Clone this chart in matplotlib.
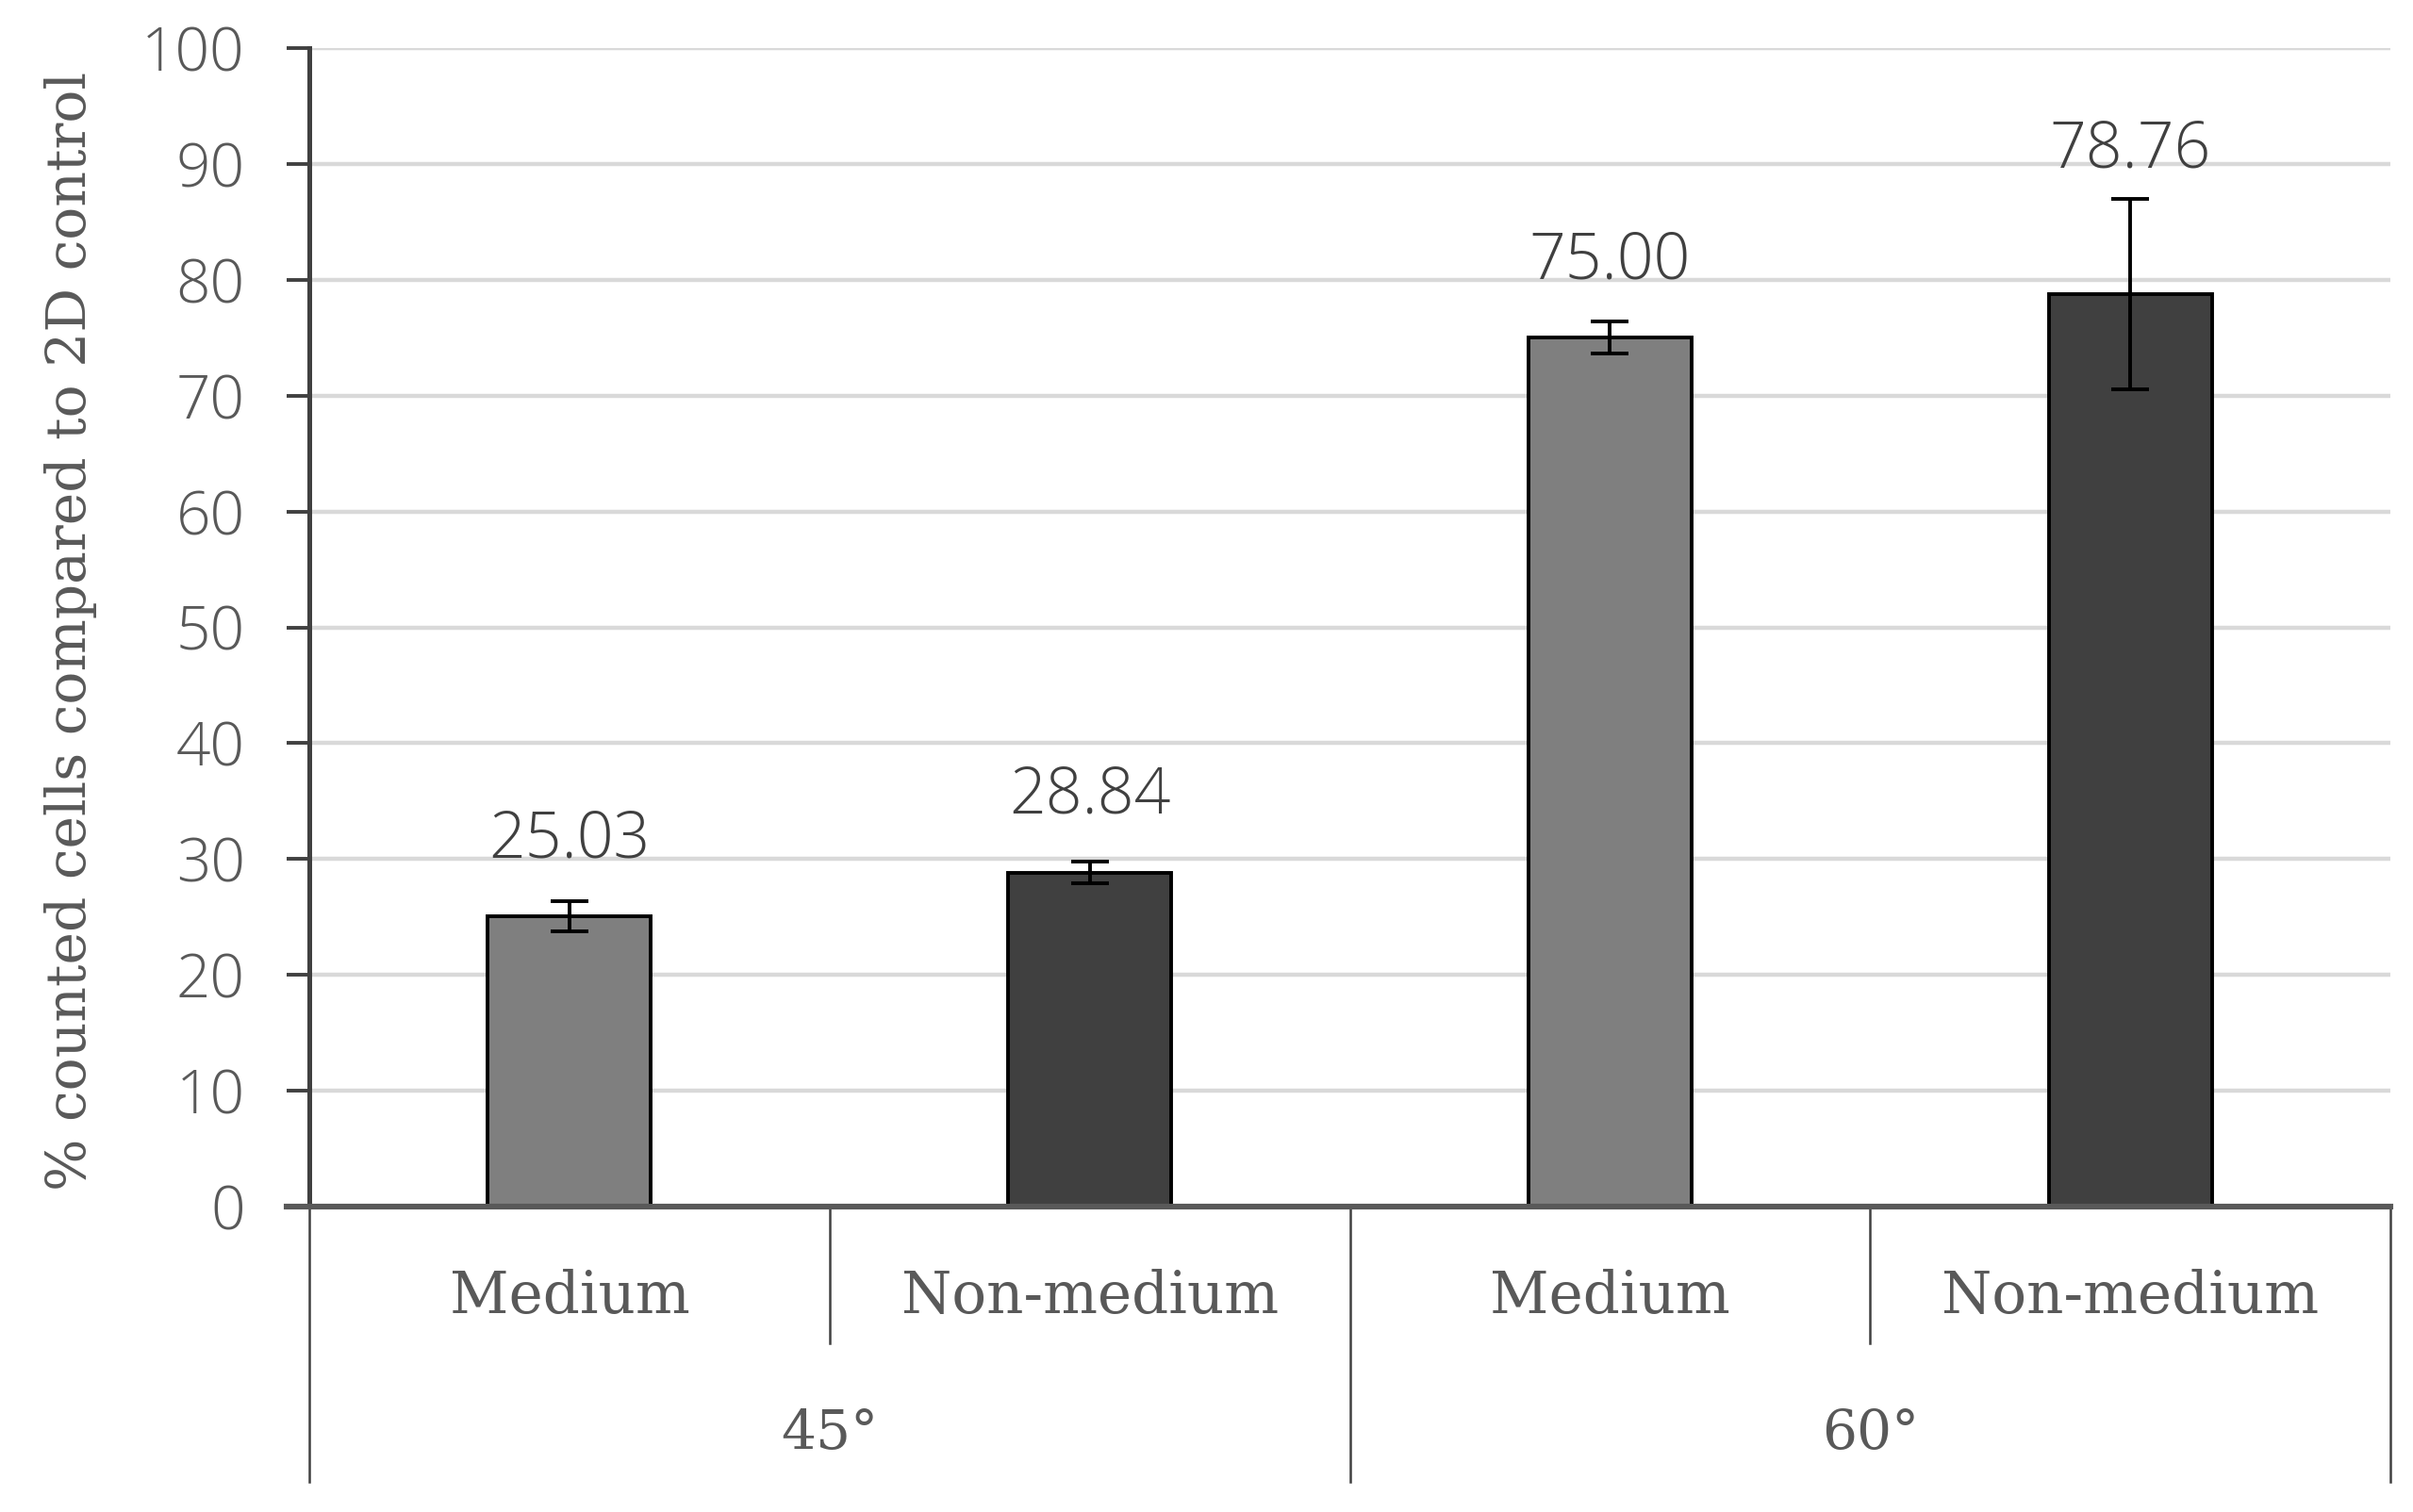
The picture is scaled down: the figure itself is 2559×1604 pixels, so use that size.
import matplotlib
matplotlib.use("Agg")
import matplotlib.pyplot as plt
import numpy as np

categories = ["Medium", "Non-medium", "Medium", "Non-medium"]
groups = ["45°", "60°"]
values = [25.03, 28.84, 75.00, 78.76]
errors = [1.3, 0.95, 1.4, 8.2]
bar_colors = ["#7f7f7f", "#404040", "#7f7f7f", "#404040"]
ylabel = "% counted cells compared to 2D control"
yticks = list(range(0, 101, 10))

W, H, DPI = 2559, 1604, 200
fig = plt.figure(figsize=(W / DPI, H / DPI), dpi=DPI)
fig.patch.set_facecolor("white")

x0, x1 = 328, 2535
ytop, ybot = 51, 1280
ax = fig.add_axes([x0 / W, 1 - ybot / H, (x1 - x0) / W, (ybot - ytop) / H])

num_font = dict(family=["Open Sans", "DejaVu Sans"], weight="light")
serif_font = dict(family=["DejaVu Serif"])

x = np.arange(len(values))
ax.bar(x, values, width=0.314, color=bar_colors, edgecolor="black",
       linewidth=1.4, zorder=3)
ax.errorbar(x, values, yerr=errors, fmt="none", ecolor="black",
            elinewidth=1.4, capsize=7.2, capthick=1.4, zorder=4)

for xi, v, e in zip(x, values, errors):
    ty = max(v + 6.6, v + e + 4.2)
    ax.text(xi, ty, f"{v:.2f}", ha="center", va="center", fontsize=24.5,
            color="#404040", **num_font, zorder=5)

ax.set_xlim(-0.5, len(values) - 0.5)
ax.set_ylim(0, 100)
ax.set_yticks(yticks)
ax.set_yticklabels([str(t) for t in yticks], fontsize=23, color="#595959",
                   **num_font)
ax.tick_params(axis="y", length=8.6, width=1.4, color="#404040", pad=16)
ax.set_xticks([])
ax.yaxis.grid(True, color="#d9d9d9", linewidth=1.6, zorder=0)
ax.set_axisbelow(True)

for s in ["top", "right"]:
    ax.spines[s].set_visible(False)
ax.spines["left"].set_color("#404040")
ax.spines["left"].set_linewidth(1.8)
ax.spines["bottom"].set_visible(False)
ax.axhline(0, xmin=-24 / (x1 - x0), xmax=1, color="#595959", linewidth=2.2,
           clip_on=False, zorder=6)

trans = ax.get_xaxis_transform()
# category separators
short_y = -0.118
long_y = -0.2376
n = len(values)
for b in range(n + 1):
    xb = b - 0.5
    is_long = (b % 2 == 0)
    ax.plot([xb, xb], [0, long_y if is_long else short_y], transform=trans,
            color="#404040", linewidth=0.9, clip_on=False)

for xi, c in zip(x, categories):
    ax.text(xi, -0.078, c, transform=trans, ha="center", va="center",
            fontsize=22, color="#595959", **serif_font)

for gi, g in enumerate(groups):
    gx = gi * 2 + 0.5
    ax.text(gx, -0.196, g, transform=trans, ha="center", va="center",
            fontsize=21, color="#595959", **serif_font)

fig.text(75 / W, 1 - 669 / H, ylabel, rotation=90, ha="center", va="center",
         fontsize=21, color="#595959", **serif_font)

fig.savefig("out.png", dpi=DPI, facecolor="white")
